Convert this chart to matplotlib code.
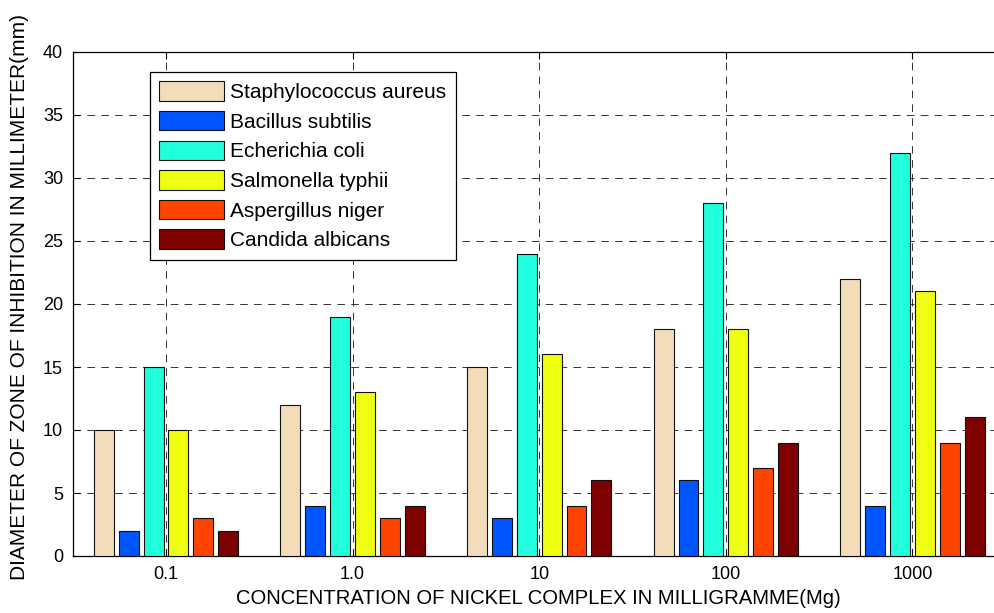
import matplotlib
matplotlib.use("Agg")
import matplotlib.pyplot as plt
import numpy as np

categories = ["0.1", "1.0", "10", "100", "1000"]
series_names = ["Staphylococcus aureus", "Bacillus subtilis", "Echerichia coli",
                "Salmonella typhii", "Aspergillus niger", "Candida albicans"]
staph = [10, 12, 15, 18, 22]
bacillus = [2, 4, 3, 6, 4]
ecoli = [15, 19, 24, 28, 32]
salmonella = [10, 13, 16, 18, 21]
aspergillus = [3, 3, 4, 7, 9]
candida = [2, 4, 6, 9, 11]
series_values = [staph, bacillus, ecoli, salmonella, aspergillus, candida]
colors = ["#F2DCBA", "#0055FF", "#22FFDD", "#EEFF11", "#FF4400", "#7F0000"]
yticks = [0, 5, 10, 15, 20, 25, 30, 35, 40]

plt.rcParams['font.family'] = ['Liberation Sans', 'DejaVu Sans']
plt.rcParams['lines.scale_dashes'] = False

W, H = 994, 613
fig = plt.figure(figsize=(W / 100, H / 100), dpi=100)
ax_left, ax_right, ax_top, ax_bot = 72.7, 72.7 + 5 * 186.6, 52, 556
ax = fig.add_axes([ax_left / W, 1 - ax_bot / H, (ax_right - ax_left) / W, (ax_bot - ax_top) / H])

x = np.arange(1, len(categories) + 1)
n = len(series_values)
groupwidth = 0.8
pitch = groupwidth / n
bw = pitch * 0.8
for i, (vals, c, name) in enumerate(zip(series_values, colors, series_names)):
    offs = (i - (n - 1) / 2) * pitch
    ax.bar(x + offs, vals, width=bw, color=c, edgecolor="#111111", linewidth=0.8,
           label=name, zorder=3)

ax.set_xlim(0.5, 5.5)
ax.set_ylim(0, 40)
ax.set_xticks(x)
ax.set_xticklabels(categories)
ax.set_yticks(yticks)
ax.tick_params(direction="in", length=5, width=0.8, top=True, right=True,
               labelsize=13, pad=7, colors="black")
ax.grid(True, color="#333333", linestyle=(0, (5.5, 4.5)), linewidth=0.7, zorder=1)
for s in ax.spines.values():
    s.set_linewidth(0.9)
    s.set_color("black")
ax.spines['right'].set_visible(False)

fig.text(538 / W, 1 - 598 / H, "CONCENTRATION OF NICKEL COMPLEX IN MILLIGRAMME(Mg)",
         ha="center", va="center", fontsize=14.6)
fig.text(20 / W, 1 - 297 / H, "DIAMETER OF ZONE OF INHIBITION IN MILLIMETER(mm)",
         ha="center", va="center", rotation=90, fontsize=15)

leg = ax.legend(loc="upper left", bbox_to_anchor=(150 / W, 1 - 72 / H),
                bbox_transform=fig.transFigure, fontsize=15, frameon=True,
                fancybox=False, shadow=False, framealpha=1, edgecolor="black",
                handlelength=3.1, handleheight=1.06, labelspacing=0.42,
                handletextpad=0.3, borderpad=0.45, borderaxespad=0)
leg.get_frame().set_linewidth(0.9)
leg.set_zorder(5)

fig.savefig("out.png", dpi=100)
